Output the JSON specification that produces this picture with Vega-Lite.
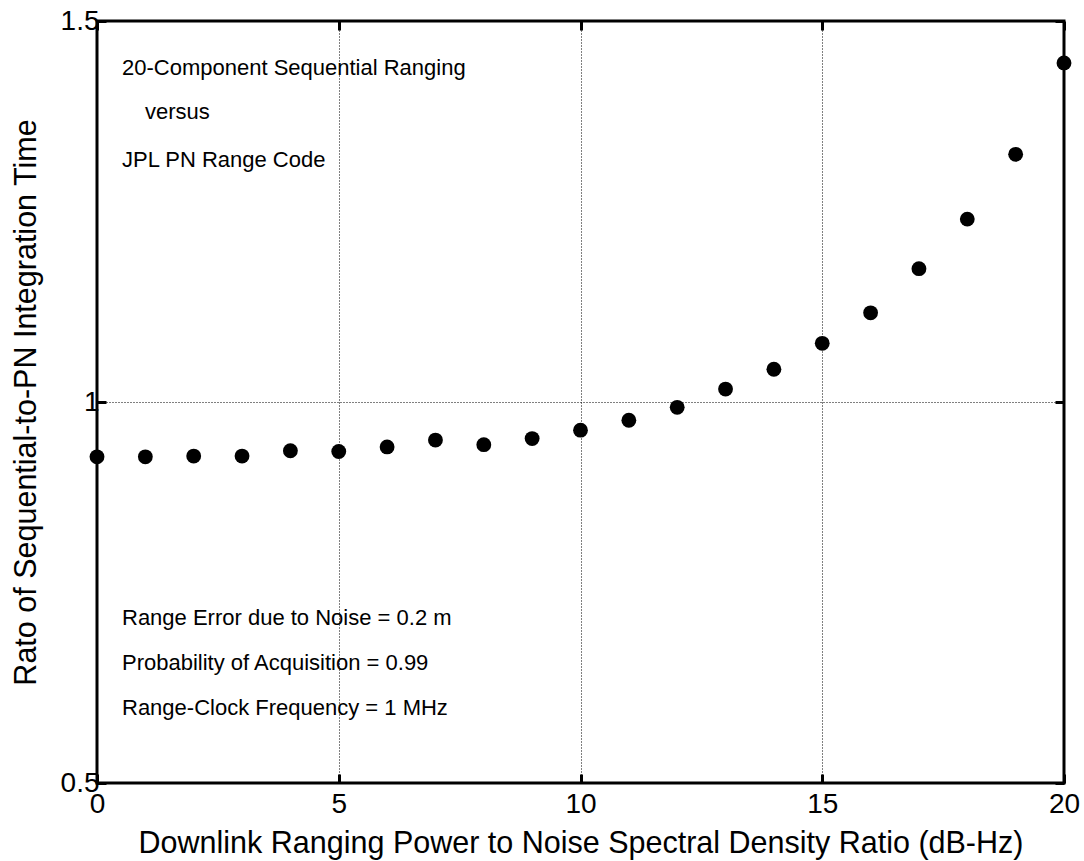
{
  "$schema": "https://vega.github.io/schema/vega-lite/v6.json",
  "width": 967,
  "height": 762,
  "autosize": {"type": "none"},
  "padding": {"left": 97, "top": 21, "right": 20, "bottom": 78},
  "background": "white",
  "config": {
    "font": "Liberation Sans",
    "view": {"stroke": "black", "strokeWidth": 3},
    "axis": {
      "domain": false,
      "tickColor": "black",
      "tickWidth": 3,
      "tickSize": -9,
      "labelColor": "black",
      "labelFontSize": 28,
      "labelFlush": false,
      "labelFont": "Liberation Sans",
      "titleFont": "Liberation Sans",
      "titleFontWeight": "normal",
      "titleFontSize": 30.5,
      "titleColor": "black",
      "gridColor": "black",
      "gridOpacity": 1,
      "gridWidth": 1,
      "gridDash": [1, 2]
    }
  },
  "datasets": {
    "points": [
      {"snr": 0, "ratio": 0.928},
      {"snr": 1, "ratio": 0.928},
      {"snr": 2, "ratio": 0.929},
      {"snr": 3, "ratio": 0.929},
      {"snr": 4, "ratio": 0.936},
      {"snr": 5, "ratio": 0.935},
      {"snr": 6, "ratio": 0.941},
      {"snr": 7, "ratio": 0.950},
      {"snr": 8, "ratio": 0.944},
      {"snr": 9, "ratio": 0.952},
      {"snr": 10, "ratio": 0.963},
      {"snr": 11, "ratio": 0.976},
      {"snr": 12, "ratio": 0.993},
      {"snr": 13, "ratio": 1.017},
      {"snr": 14, "ratio": 1.043},
      {"snr": 15, "ratio": 1.077},
      {"snr": 16, "ratio": 1.117},
      {"snr": 17, "ratio": 1.175},
      {"snr": 18, "ratio": 1.240},
      {"snr": 19, "ratio": 1.325},
      {"snr": 20, "ratio": 1.445}
    ],
    "notes": [
      {"snr": 0.517, "ratio": 1.438, "label": "20-Component Sequential Ranging"},
      {"snr": 0.993, "ratio": 1.381, "label": "versus"},
      {"snr": 0.517, "ratio": 1.318, "label": "JPL PN Range Code"},
      {"snr": 0.517, "ratio": 0.716, "label": "Range Error due to Noise = 0.2 m"},
      {"snr": 0.517, "ratio": 0.657, "label": "Probability of Acquisition = 0.99"},
      {"snr": 0.517, "ratio": 0.598, "label": "Range-Clock Frequency = 1 MHz"}
    ]
  },
  "resolve": {"axis": {"x": "independent", "y": "independent"}},
  "layer": [
    {
      "data": {"name": "points"},
      "mark": {"type": "point", "filled": true, "shape": "circle", "size": 220, "color": "black", "opacity": 1, "clip": false},
      "encoding": {
        "x": {
          "field": "snr", "type": "quantitative",
          "scale": {"domain": [0, 20], "nice": false, "zero": false},
          "axis": {
            "orient": "bottom",
            "values": [0, 5, 10, 15, 20],
            "format": "d",
            "labelPadding": 16,
            "title": "Downlink Ranging Power to Noise Spectral Density Ratio (dB-Hz)",
            "titlePadding": 10,
            "grid": true
          }
        },
        "y": {
          "field": "ratio", "type": "quantitative",
          "scale": {"domain": [0.5, 1.5], "nice": false, "zero": false},
          "axis": {
            "orient": "left",
            "values": [0.5, 1, 1.5],
            "format": "~g",
            "labelPadding": 7,
            "title": "Rato of Sequential-to-PN Integration Time",
            "titlePadding": 19,
            "grid": true
          }
        }
      }
    },
    {
      "data": {"name": "notes"},
      "mark": {"type": "text", "align": "left", "baseline": "middle", "fontSize": 22, "font": "Liberation Sans", "color": "black"},
      "encoding": {
        "x": {"field": "snr", "type": "quantitative", "axis": {"orient": "top", "values": [0, 5, 10, 15, 20], "labels": false, "title": null, "grid": false}},
        "y": {"field": "ratio", "type": "quantitative", "axis": {"orient": "right", "values": [0.5, 1, 1.5], "labels": false, "title": null, "grid": false}},
        "text": {"field": "label"}
      }
    }
  ]
}
